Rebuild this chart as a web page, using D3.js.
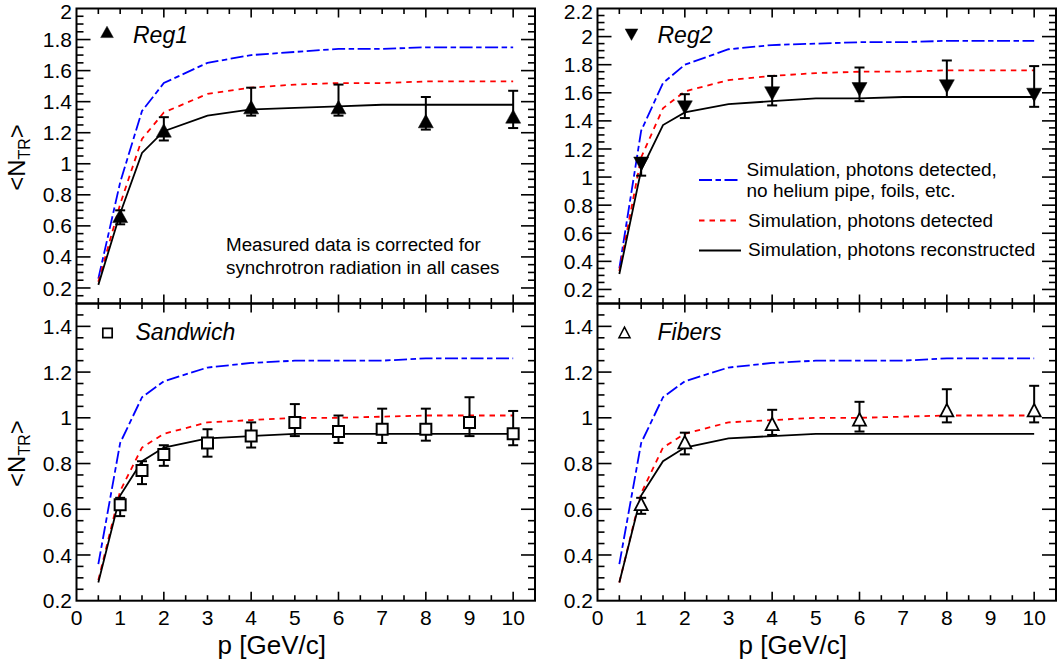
<!DOCTYPE html>
<html><head><meta charset="utf-8">
<script src="https://cdn.jsdelivr.net/npm/d3@7"></script>
<style>
body{margin:0;background:#fff;}
svg{display:block;font-family:"Liberation Sans",Arial,Helvetica,sans-serif;}
</style>
</head><body>
<svg id="c" width="1057" height="665"></svg>
<script>
// ---------------- data ----------------
const simP = [0.5, 1, 1.5, 2, 3, 4, 5, 6, 7, 8, 9, 10];

const reg1Blue  = [0.26, 0.88, 1.34, 1.52, 1.65, 1.70, 1.72, 1.74, 1.74, 1.75, 1.75, 1.75];
const reg1Red   = [0.24, 0.74, 1.16, 1.33, 1.45, 1.49, 1.51, 1.52, 1.52, 1.53, 1.53, 1.53];
const reg1Black = [0.22, 0.68, 1.07, 1.21, 1.31, 1.35, 1.36, 1.37, 1.38, 1.38, 1.38, 1.38];

const reg2Blue  = [0.35, 1.33, 1.67, 1.80, 1.91, 1.94, 1.95, 1.96, 1.96, 1.97, 1.97, 1.97];
const reg2Red   = [0.33, 1.14, 1.49, 1.61, 1.69, 1.72, 1.74, 1.75, 1.75, 1.76, 1.76, 1.76];
const reg2Black = [0.31, 1.05, 1.37, 1.46, 1.52, 1.54, 1.56, 1.56, 1.57, 1.57, 1.57, 1.57];

const sandBlue  = [0.36, 0.89, 1.09, 1.16, 1.22, 1.24, 1.25, 1.25, 1.25, 1.26, 1.26, 1.26];
const sandRed   = [0.29, 0.68, 0.87, 0.93, 0.98, 0.99, 1.00, 1.00, 1.005, 1.01, 1.01, 1.01];
const sandBlack = [0.28, 0.66, 0.81, 0.87, 0.91, 0.92, 0.93, 0.93, 0.93, 0.93, 0.93, 0.93];

const fibBlue   = [0.36, 0.89, 1.09, 1.16, 1.22, 1.24, 1.25, 1.25, 1.25, 1.26, 1.26, 1.26];
const fibRed    = [0.28, 0.67, 0.87, 0.93, 0.98, 0.99, 1.00, 1.00, 1.005, 1.01, 1.01, 1.01];
const fibBlack  = [0.28, 0.66, 0.81, 0.87, 0.91, 0.92, 0.93, 0.93, 0.93, 0.93, 0.93, 0.93];

const reg1P  = [1, 2, 4, 6, 8, 10];
const reg1N  = [0.66, 1.21, 1.36, 1.36, 1.27, 1.30];
const reg1Hi = [0.70, 1.30, 1.49, 1.51, 1.43, 1.47];
const reg1Lo = [0.61, 1.15, 1.31, 1.31, 1.22, 1.23];

const reg2P  = [1, 2, 4, 6, 8, 10];
const reg2N  = [1.10, 1.50, 1.60, 1.63, 1.65, 1.59];
const reg2Hi = [1.13, 1.59, 1.72, 1.78, 1.83, 1.79];
const reg2Lo = [1.01, 1.42, 1.51, 1.54, 1.57, 1.50];

const sandP  = [1, 1.5, 2, 3, 4, 5, 6, 7, 8, 9, 10];
const sandN  = [0.62, 0.77, 0.84, 0.89, 0.92, 0.98, 0.94, 0.95, 0.95, 0.98, 0.93];
const sandHi = [0.65, 0.81, 0.88, 0.95, 0.98, 1.06, 1.01, 1.04, 1.04, 1.09, 1.03];
const sandLo = [0.57, 0.71, 0.79, 0.83, 0.87, 0.92, 0.89, 0.89, 0.90, 0.92, 0.88];

const fibP   = [1, 2, 4, 6, 8, 10];
const fibN   = [0.62, 0.89, 0.97, 0.99, 1.03, 1.03];
const fibHi  = [0.65, 0.935, 1.035, 1.07, 1.125, 1.14];
const fibLo  = [0.58, 0.84, 0.925, 0.94, 0.98, 0.98];

const xTickLabels = [0,1,2,3,4,5,6,7,8,9,10];
const legendLabels = ["Simulation, photons detected,", "no helium pipe, foils, etc.",
                      "Simulation, photons detected", "Simulation, photons reconstructed"];
const noteLines = ["Measured data is corrected for", "synchrotron radiation in all cases"];
const xTitle = "p [GeV/c]";

// ---------------- layout ----------------
const svg = d3.select("#c");
const L = {xl:[76.5,535], xr:[597.5,1056], yt:[8.5,303.5], yb:[303.5,600.7]};
const FONT_TICK = 21;

const panels = [
  {name:"Reg1", xr:L.xl, yr:L.yt, dom:[0.1,2.0], marker:"tri", blue:reg1Blue, red:reg1Red, black:reg1Black,
   p:reg1P, n:reg1N, hi:reg1Hi, lo:reg1Lo, xlab:false, lblM:[107,32.5], lblT:[133,42.5], ytitle:true},
  {name:"Reg2", xr:L.xr, yr:L.yt, dom:[0.1,2.2], marker:"itri", blue:reg2Blue, red:reg2Red, black:reg2Black,
   p:reg2P, n:reg2N, hi:reg2Hi, lo:reg2Lo, xlab:false, lblM:[631.5,34], lblT:[657.5,43], ytitle:false},
  {name:"Sandwich", xr:L.xl, yr:L.yb, dom:[0.2,1.5], marker:"sq", blue:sandBlue, red:sandRed, black:sandBlack,
   p:sandP, n:sandN, hi:sandHi, lo:sandLo, xlab:true, lblM:[107.5,333], lblT:[135.5,340], ytitle:true},
  {name:"Fibers", xr:L.xr, yr:L.yb, dom:[0.2,1.5], marker:"otri", blue:fibBlue, red:fibRed, black:fibBlack,
   p:fibP, n:fibN, hi:fibHi, lo:fibLo, xlab:true, lblM:[624.5,333], lblT:[657.5,340], ytitle:false}
];

const markerPath = {
  tri:  "M0,-7.5L7.5,6L-7.5,6Z",
  itri: "M0,7.5L7.5,-6L-7.5,-6Z",
  sq:   "M-5.5,-5.5H5.5V5.5H-5.5Z",
  otri: "M0,-7L6.5,5.5L-6.5,5.5Z"
};
const markerStyle = {
  tri:  {fill:"#000", stroke:"#000", sw:0.5},
  itri: {fill:"#000", stroke:"#000", sw:0.5},
  sq:   {fill:"#fff", stroke:"#000", sw:2},
  otri: {fill:"#fff", stroke:"#000", sw:1.8}
};

function fmt(v){ return String(+v.toFixed(2)); }
function rng(a,b,s){ const out=[]; for(let k=Math.ceil(a/s-1e-6); k*s<=b+1e-6; k++) out.push(+(k*s).toFixed(4)); return out; }

panels.forEach(P => {
  const x = d3.scaleLinear().domain([0,10.5]).range(P.xr);
  const y = d3.scaleLinear().domain(P.dom).range([P.yr[1], P.yr[0]]);
  const g = svg.append("g");
  const [X0,X1] = P.xr, Y0=P.yr[0], Y1=P.yr[1];

  // x ticks (bottom & top, inward)
  rng(0.5,10.5,0.5).forEach(v=>{
    const major = Math.abs(v/2 - Math.round(v/2))<1e-6;
    const len = major?9:5.5;
    const xx = x(v);
    if (xx>X1-1) return;
    g.append("line").attr("x1",xx).attr("x2",xx).attr("y1",Y1).attr("y2",Y1-len)
      .attr("stroke","#000").attr("stroke-width",1.6);
    g.append("line").attr("x1",xx).attr("x2",xx).attr("y1",Y0).attr("y2",Y0+len)
      .attr("stroke","#000").attr("stroke-width",1.6);
  });
  // y ticks (left & right)
  rng(P.dom[0],P.dom[1],0.05).forEach(v=>{
    const major = Math.abs(v/0.2 - Math.round(v/0.2))<1e-6;
    const len = major?14:7;
    const yy = y(v);
    if (yy<Y0+0.5 || yy>Y1-0.5) return;
    g.append("line").attr("x1",X0).attr("x2",X0+len).attr("y1",yy).attr("y2",yy)
      .attr("stroke","#000").attr("stroke-width",1.6);
    g.append("line").attr("x1",X1).attr("x2",X1-len).attr("y1",yy).attr("y2",yy)
      .attr("stroke","#000").attr("stroke-width",1.6);
  });
  // y labels
  rng(0.2,P.dom[1],0.2).forEach(v=>{
    g.append("text").attr("x",X0-4.5).attr("y",Math.max(y(v),11.5)).attr("dy","0.36em")
      .attr("text-anchor","end").attr("font-size",FONT_TICK).text(fmt(v));
  });
  // x labels
  if (P.xlab){
    xTickLabels.forEach(v=>{
      g.append("text").attr("x",x(v)).attr("y",Y1+24).attr("text-anchor","middle")
        .attr("font-size",FONT_TICK).text(v);
    });
    g.append("text").attr("x",(X0+X1)/2-34).attr("y",654).attr("text-anchor","middle")
      .attr("font-size",26).text(xTitle);
  }
  if (P.ytitle){
    const t = g.append("text").attr("transform",`translate(25,${(Y0+Y1)/2+1.5}) rotate(-90)`)
      .attr("text-anchor","middle").attr("font-size",24);
    t.append("tspan").text("<N");
    t.append("tspan").attr("dy",5).attr("font-size",16).text("TR");
    t.append("tspan").attr("dy",-5).text(">");
  }

  // curves
  const line = d3.line().x((d,i)=>x(simP[i])).y(d=>y(d));
  g.append("path").attr("d",line(P.blue)).attr("fill","none").attr("stroke","#0000ff")
    .attr("stroke-width",1.8).attr("stroke-dasharray","13,3.5,5.5,3.5");
  g.append("path").attr("d",line(P.red)).attr("fill","none").attr("stroke","#ff0000")
    .attr("stroke-width",1.8).attr("stroke-dasharray","5.5,5");
  g.append("path").attr("d",line(P.black)).attr("fill","none").attr("stroke","#000")
    .attr("stroke-width",1.8);

  // error bars
  P.p.forEach((pv,i)=>{
    const xx = x(pv);
    g.append("line").attr("x1",xx).attr("x2",xx).attr("y1",y(P.lo[i])).attr("y2",y(P.hi[i]))
      .attr("stroke","#000").attr("stroke-width",2);
    [P.lo[i],P.hi[i]].forEach(v=>{
      g.append("line").attr("x1",xx-5).attr("x2",xx+5).attr("y1",y(v)).attr("y2",y(v))
        .attr("stroke","#000").attr("stroke-width",2);
    });
  });
  // markers
  const ms = markerStyle[P.marker];
  P.p.forEach((pv,i)=>{
    g.append("path").attr("d",markerPath[P.marker])
      .attr("transform",`translate(${x(pv)},${y(P.n[i])})`)
      .attr("fill",ms.fill).attr("stroke",ms.stroke).attr("stroke-width",ms.sw);
  });

  // panel label
  g.append("path").attr("d",markerPath[P.marker])
    .attr("transform",`translate(${P.lblM[0]},${P.lblM[1]}) scale(0.85)`)
    .attr("fill",ms.fill).attr("stroke",ms.stroke).attr("stroke-width",ms.sw);
  g.append("text").attr("x",P.lblT[0]).attr("y",P.lblT[1]).attr("font-size",23)
    .attr("font-style","italic").text(P.name);

  // frame
  g.append("rect").attr("x",X0).attr("y",Y0).attr("width",X1-X0).attr("height",Y1-Y0)
    .attr("fill","none").attr("stroke","#000").attr("stroke-width",2);
});

// note text in Reg1 panel
noteLines.forEach((s,i)=>{
  svg.append("text").attr("x",226).attr("y",[250.5,273.8][i]).attr("font-size",18.8).text(s);
});

// legend in Reg2 panel
const legY = [180, 220.5, 250.5];
const legStyles = [
  {c:"#0000ff", dash:"13,3.5,5.5,3.5"},
  {c:"#ff0000", dash:"5.5,5"},
  {c:"#000", dash:null}
];
legStyles.forEach((s,i)=>{
  const l = svg.append("line").attr("x1",699).attr("x2",741).attr("y1",legY[i]).attr("y2",legY[i])
    .attr("stroke",s.c).attr("stroke-width",1.8);
  if (s.dash) l.attr("stroke-dasharray",s.dash);
});
const legTextPos = [[746.5,175.5],[746.5,197],[748,226.5],[748,256]];
legendLabels.forEach((s,i)=>{
  svg.append("text").attr("x",legTextPos[i][0]).attr("y",legTextPos[i][1]).attr("font-size",19).text(s);
});
</script>
</body></html>
